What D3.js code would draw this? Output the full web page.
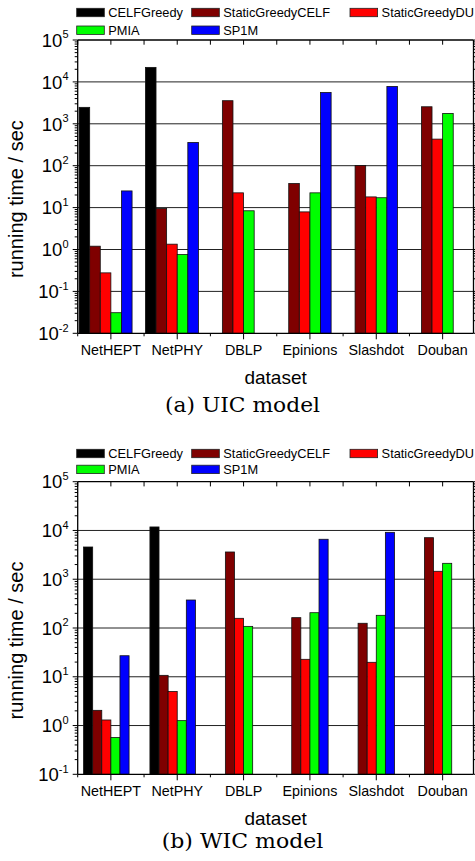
<!DOCTYPE html>
<html>
<head>
<meta charset="utf-8">
<script src="https://cdn.jsdelivr.net/npm/d3@7"></script>
<style>
  html, body { margin: 0; padding: 0; background: #fff; }
  svg { display: block; }
</style>
</head>
<body>
<svg id="chart" width="475" height="861"></svg>
<script>
// ---------- data ----------
const categories = ["NetHEPT", "NetPHY", "DBLP", "Epinions", "Slashdot", "Douban"];
const seriesNames = ["CELFGreedy", "StaticGreedyCELF", "StaticGreedyDU", "PMIA", "SP1M"];
const seriesColors = ["#000000", "#7f0000", "#ff0000", "#00ff00", "#0000ff"];

// (a) UIC model, running time in seconds
const uicCELFGreedy       = [2470, 22200, null, null, null, null];
const uicStaticGreedyCELF = [1.2, 9.5, 3560, 37.6, 101, 2550];
const uicStaticGreedyDU   = [0.277, 1.34, 22.5, 7.9, 18, 431];
const uicPMIA             = [0.031, 0.76, 8.4, 22.5, 17.2, 1770];
const uicSP1M             = [25, 359, null, 5600, 7800, null];

// (b) WIC model, running time in seconds
const wicCELFGreedy       = [4580, 11800, null, null, null, null];
const wicStaticGreedyCELF = [2.05, 10.7, 3620, 163, 125, 7110];
const wicStaticGreedyDU   = [1.3, 5.0, 158, 22.8, 19.8, 1455];
const wicPMIA             = [0.57, 1.26, 108, 206, 182, 2120];
const wicSP1M             = [27, 375, null, 6600, 9160, null];

// tick labels (exponents of 10)
const uicExponents = [-2, -1, 0, 1, 2, 3, 4, 5];
const wicExponents = [-1, 0, 1, 2, 3, 4, 5];

const xLabel = "dataset";
const yLabel = "running time / sec";
const captions = ["(a) UIC model", "(b) WIC model"];

// ---------- drawing ----------
const svg = d3.select("#chart");
const SANS = "'Liberation Sans', Arial, sans-serif";

function drawPanel(cfg) {
  const g = svg.append("g");
  const L = 77.7, R = 473.5, T = cfg.top, B = cfg.bottom;

  const x = d3.scaleBand().domain(categories).range([L, 475.8]).paddingInner(0).paddingOuter(0);
  const slotKeys = seriesNames.concat(["_empty"]);
  const xs = d3.scaleBand().domain(slotKeys).range([-cfg.slot * 3, cfg.slot * 3]);
  const y = d3.scaleLog().domain([Math.pow(10, cfg.exps[0]), Math.pow(10, cfg.exps[cfg.exps.length - 1])]).range([B, T]);

  // gridlines
  g.append("g").selectAll("line").data(cfg.exps.slice(1, -1)).join("line")
    .attr("x1", L).attr("x2", R)
    .attr("y1", e => y(Math.pow(10, e))).attr("y2", e => y(Math.pow(10, e)))
    .attr("stroke", "#222").attr("stroke-width", 1);

  // bars
  const barData = [];
  cfg.series.forEach((vals, si) => {
    vals.forEach((v, ci) => {
      if (v != null) barData.push({ s: seriesNames[si], c: categories[ci], v: v, color: seriesColors[si] });
    });
  });
  g.append("g").selectAll("rect").data(barData).join("rect")
    .attr("x", d => x(d.c) + x.bandwidth() / 2 + xs(d.s))
    .attr("width", xs.bandwidth())
    .attr("y", d => y(d.v))
    .attr("height", d => B - y(d.v))
    .attr("fill", d => d.color)
    .attr("stroke", "#111").attr("stroke-width", 0.8);

  // frame
  const ax = g.append("g").attr("stroke", "#000").attr("stroke-width", 1.3).attr("fill", "none");
  ax.append("line").attr("x1", L).attr("x2", L).attr("y1", T).attr("y2", B);
  ax.append("line").attr("x1", R).attr("x2", R).attr("y1", T).attr("y2", B);
  ax.append("line").attr("x1", L).attr("x2", R).attr("y1", T).attr("y2", T);
  ax.append("line").attr("x1", L).attr("x2", R).attr("y1", B).attr("y2", B);

  // y ticks (major + minor) on left and right
  const allTicks = y.ticks();
  const tk = g.append("g").attr("stroke", "#000").attr("stroke-width", 1);
  allTicks.forEach(t => {
    const isMajor = Math.abs(Math.log10(t) - Math.round(Math.log10(t))) < 1e-9;
    const len = isMajor ? 5 : 3;
    const yy = y(t);
    tk.append("line").attr("x1", L - len).attr("x2", L).attr("y1", yy).attr("y2", yy);
    tk.append("line").attr("x1", R).attr("x2", R + len).attr("y1", yy).attr("y2", yy);
  });

  // x ticks: bottom (centers long, boundaries short), top (both inward)
  const centers = categories.map(c => x(c) + x.bandwidth() / 2);
  const bounds = categories.map(c => x(c)).concat([x(categories[categories.length - 1]) + x.bandwidth()]).filter(v => v <= R + 0.5);
  centers.forEach(cx => {
    tk.append("line").attr("x1", cx).attr("x2", cx).attr("y1", B).attr("y2", B + 6);
    tk.append("line").attr("x1", cx).attr("x2", cx).attr("y1", T).attr("y2", T + 4.7);
  });
  bounds.forEach(bx => {
    tk.append("line").attr("x1", bx).attr("x2", bx).attr("y1", B).attr("y2", B + 3);
    tk.append("line").attr("x1", bx).attr("x2", bx).attr("y1", T).attr("y2", T + 4.7);
  });

  // y tick labels
  cfg.exps.forEach(e => {
    const yy = y(Math.pow(10, e));
    const t = g.append("text")
      .attr("x", 68.5).attr("y", yy + 6.7)
      .attr("text-anchor", "end")
      .attr("font-family", SANS).attr("font-size", 18.5).attr("fill", "#000");
    t.append("tspan").text("10");
    t.append("tspan").attr("dy", -8.5).attr("font-size", 11).text(String(e));
  });

  // x tick labels
  g.append("g").selectAll("text").data(categories).join("text")
    .attr("x", d => x(d) + x.bandwidth() / 2)
    .attr("y", B + 22)
    .attr("text-anchor", "middle")
    .attr("font-family", SANS).attr("font-size", 14.3).attr("fill", "#000")
    .text(d => d);

  // axis titles
  g.append("text")
    .attr("x", (L + R) / 2).attr("y", B + 50.3)
    .attr("text-anchor", "middle")
    .attr("font-family", SANS).attr("font-size", 19).attr("fill", "#000")
    .text(xLabel);
  g.append("text")
    .attr("transform", `translate(22.5,${(T + B) / 2 + 12.5}) rotate(-90)`)
    .attr("text-anchor", "middle")
    .attr("font-family", SANS).attr("font-size", 20).attr("fill", "#000")
    .text(yLabel);

  // caption
  g.append("text")
    .attr("x", 242.5).attr("y", cfg.captionY)
    .attr("text-anchor", "middle")
    .attr("font-family", "'DejaVu Serif', serif").attr("font-size", 19.5).attr("fill", "#000")
    .attr("textLength", cfg.captionW).attr("lengthAdjust", "spacingAndGlyphs")
    .text(cfg.caption);

  // legend
  const legX = [76.7, 191.7, 350, 76.7, 191.7];
  const legRow = [0, 0, 0, 1, 1];
  const lg = g.append("g");
  seriesNames.forEach((s, i) => {
    const ry = cfg.legendY + legRow[i] * cfg.legendStep;
    lg.append("rect")
      .attr("x", legX[i]).attr("y", ry)
      .attr("width", 27.6).attr("height", 8.4)
      .attr("fill", seriesColors[i]).attr("stroke", "#222").attr("stroke-width", 0.8);
    lg.append("text")
      .attr("x", legX[i] + 31.6).attr("y", ry + 9)
      .attr("font-family", SANS).attr("font-size", 12.8).attr("fill", "#000")
      .text(s);
  });
}

drawPanel({
  top: 40, bottom: 333.3, exps: uicExponents, slot: 10.6,
  series: [uicCELFGreedy, uicStaticGreedyCELF, uicStaticGreedyDU, uicPMIA, uicSP1M],
  caption: captions[0], captionY: 411.7, captionW: 155,
  legendY: 8.3, legendStep: 17.7
});
drawPanel({
  top: 481.7, bottom: 774.3, exps: wicExponents, slot: 9.1,
  series: [wicCELFGreedy, wicStaticGreedyCELF, wicStaticGreedyDU, wicPMIA, wicSP1M],
  caption: captions[1], captionY: 848, captionW: 161.6,
  legendY: 449.3, legendStep: 15.9
});
</script>
</body>
</html>
